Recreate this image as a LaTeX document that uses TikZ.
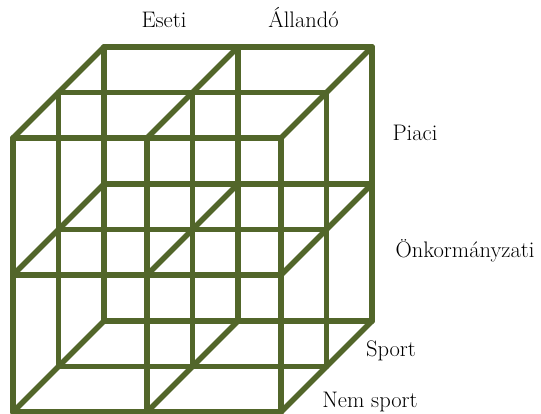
\documentclass[tikz,border=0pt]{standalone}
\usepackage{tikz}
\definecolor{rodgreen}{RGB}{82,102,42}
\tikzset{rod/.style={draw=rodgreen, line width=5.5pt, line cap=round},
  lab/.style={anchor=base, font=\fontsize{22.5}{27}\selectfont}}

\begin{document}
\begin{tikzpicture}[x=1pt,y=1pt]
\useasboundingbox (-13,-2) rectangle (528,412);

\coordinate (f00) at (0,0);     \coordinate (f10) at (134,0);     \coordinate (f20) at (268,0);
\coordinate (f01) at (0,137);   \coordinate (f11) at (134,137);   \coordinate (f21) at (268,137);
\coordinate (f02) at (0,274);   \coordinate (f12) at (134,274);   \coordinate (f22) at (268,274);

\coordinate (m00) at (45.5,45.5);  \coordinate (m10) at (179.5,45.5);  \coordinate (m20) at (313.5,45.5);
\coordinate (m01) at (45.5,182.5); \coordinate (m11) at (179.5,182.5); \coordinate (m21) at (313.5,182.5);
\coordinate (m02) at (45.5,319.5); \coordinate (m12) at (179.5,319.5); \coordinate (m22) at (313.5,319.5);

\coordinate (b00) at (91,91);   \coordinate (b10) at (225,91);    \coordinate (b20) at (359,91);
\coordinate (b01) at (91,228);  \coordinate (b11) at (225,228);   \coordinate (b21) at (359,228);
\coordinate (b02) at (91,365);  \coordinate (b12) at (225,365);   \coordinate (b22) at (359,365);

\draw[rod] (b00) -- (b20); \draw[rod] (b01) -- (b21); \draw[rod] (b02) -- (b22);
\draw[rod] (b00) -- (b02); \draw[rod] (b10) -- (b12); \draw[rod] (b20) -- (b22);

\draw[rod] (f00) -- (b00); \draw[rod] (f10) -- (b10); \draw[rod] (f20) -- (b20);
\draw[rod] (f01) -- (b01); \draw[rod] (f11) -- (b11); \draw[rod] (f21) -- (b21);
\draw[rod] (f02) -- (b02); \draw[rod] (f12) -- (b12); \draw[rod] (f22) -- (b22);

\draw[rod] (m00) -- (m20); \draw[rod] (m01) -- (m21); \draw[rod] (m02) -- (m22);
\draw[rod] (m00) -- (m02); \draw[rod] (m10) -- (m12); \draw[rod] (m20) -- (m22);

\draw[rod] (f00) -- (f20); \draw[rod] (f01) -- (f21); \draw[rod] (f02) -- (f22);
\draw[rod] (f00) -- (f02); \draw[rod] (f10) -- (f12); \draw[rod] (f20) -- (f22);

\node[lab] (eseti) at (151,384) {Eseti};
\node[lab] (allando) at (290.5,384) {Állandó};
\node[lab] (piaci) at (402,271) {Piaci};
\node[lab] (onkorm) at (452,154) {Önkormányzati};
\node[lab] (sport) at (378,55) {Sport};
\node[lab] (nemsport) at (357,4) {Nem sport};

\end{tikzpicture}
\end{document}
